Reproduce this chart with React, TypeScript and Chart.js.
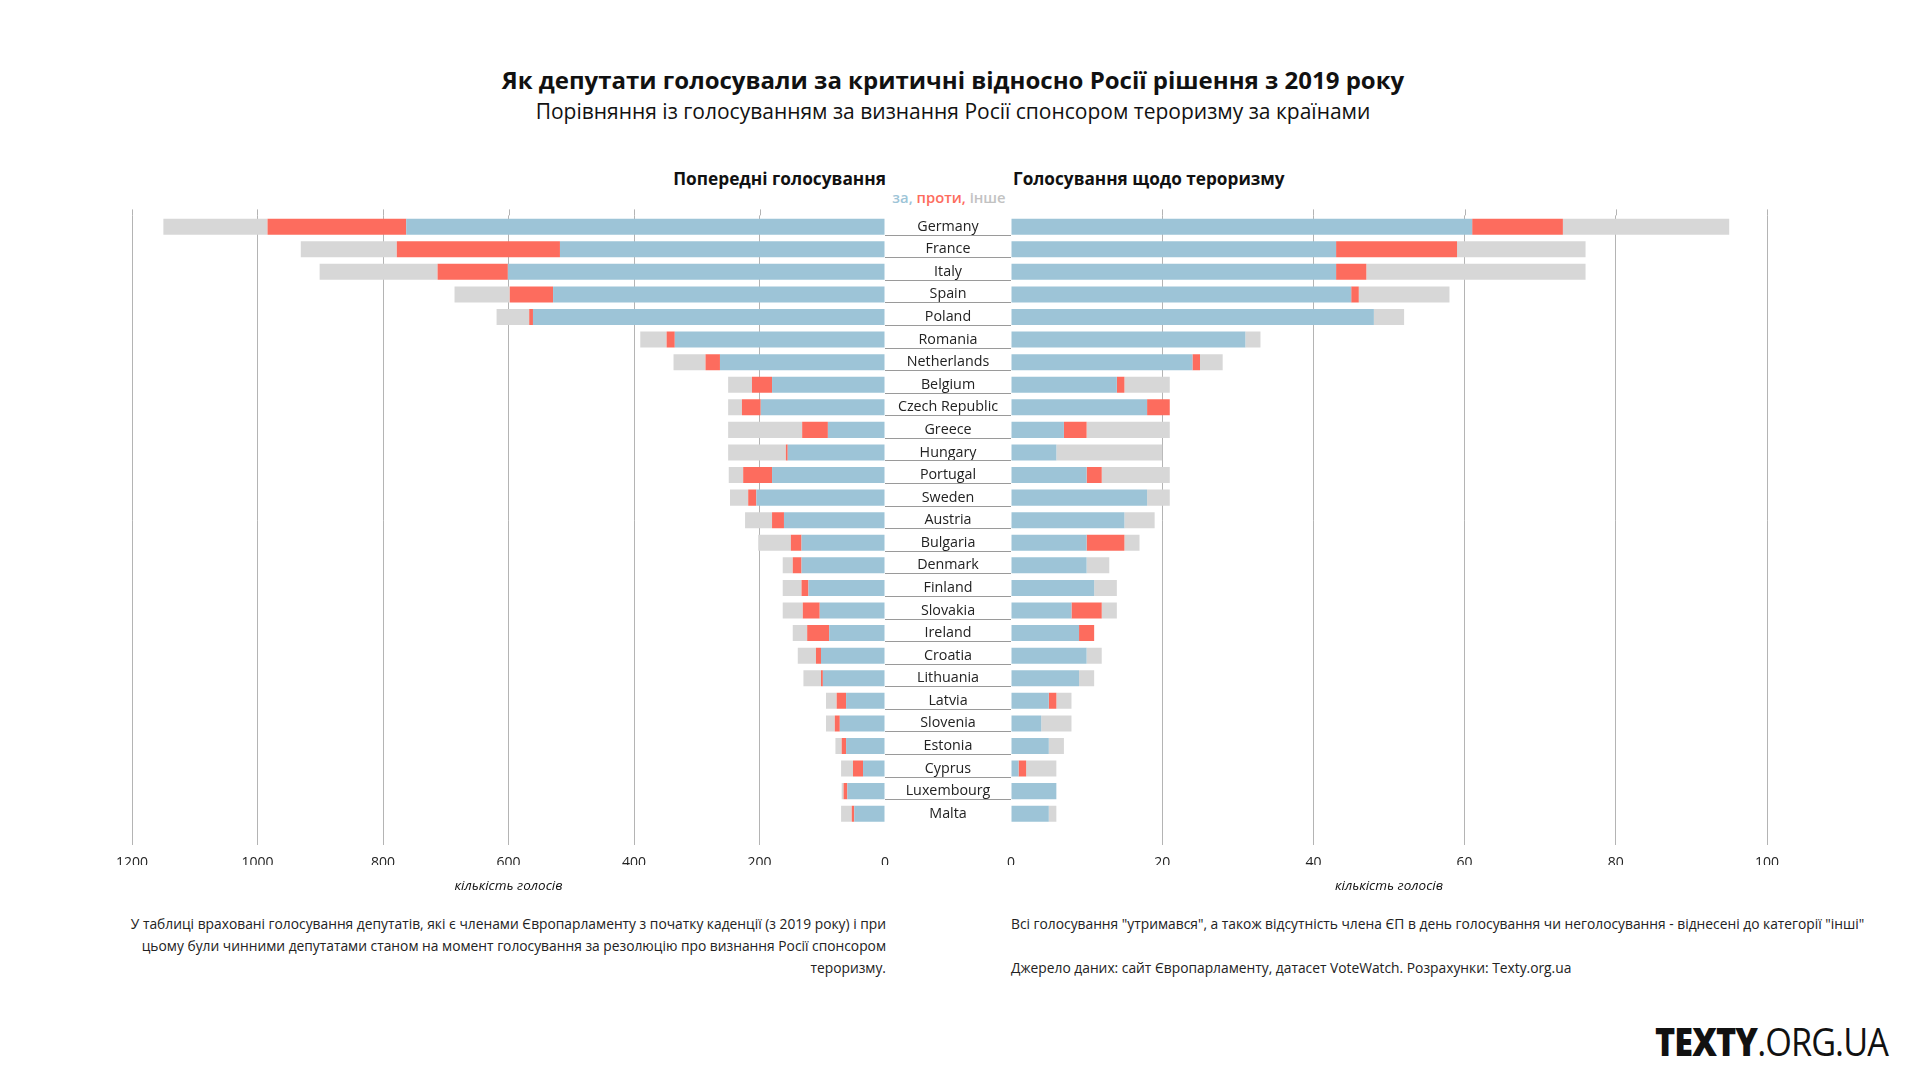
import React, { useEffect, useRef } from "react";
import { Chart, registerables } from "chart.js";

Chart.register(...registerables);

const FONT = "'Open Sans', 'Noto Sans', sans-serif";

const countries = [
  "Germany", "France", "Italy", "Spain", "Poland", "Romania", "Netherlands",
  "Belgium", "Czech Republic", "Greece", "Hungary", "Portugal", "Sweden", "Austria",
  "Bulgaria", "Denmark", "Finland", "Slovakia", "Ireland", "Croatia", "Lithuania",
  "Latvia", "Slovenia", "Estonia", "Cyprus", "Luxembourg", "Malta",
];

// Previous votes (since 2019)
const prevFor = [763, 518, 601, 529, 561, 335, 263, 180, 198, 91, 155, 180, 205, 161, 133, 133, 122, 104, 89, 102, 99, 62, 72, 62, 35, 60, 49];
const prevAgainst = [221, 260, 112, 69, 6, 13, 23, 32, 30, 41, 3, 46, 13, 19, 17, 14, 11, 27, 35, 8, 3, 15, 8, 7, 16, 6, 4];
const prevOther = [166, 153, 188, 88, 52, 42, 51, 38, 22, 118, 92, 23, 29, 43, 52, 16, 30, 32, 23, 29, 28, 17, 14, 10, 19, 3, 17];

// Terrorism resolution vote
const terrFor = [61, 43, 43, 45, 48, 31, 24, 14, 18, 7, 6, 10, 18, 15, 10, 10, 11, 8, 9, 10, 9, 5, 4, 5, 1, 6, 5];
const terrAgainst = [12, 16, 4, 1, 0, 0, 1, 1, 3, 3, 0, 2, 0, 0, 5, 0, 0, 4, 2, 0, 0, 1, 0, 0, 1, 0, 0];
const terrOther = [22, 17, 29, 12, 4, 2, 3, 6, 0, 11, 14, 9, 3, 4, 2, 3, 3, 2, 0, 2, 2, 2, 4, 2, 4, 0, 1];

const seriesNames = ["за", "проти", "інше"];
const leftAxisMax = 1200;
const leftAxisStep = 200;
const rightAxisMax = 100;
const rightAxisStep = 20;

const BLUE = "#9dc4d7";
const RED = "#fd6c5e";
const GREY = "#d7d7d7";
const GRID = "#b4b4b4";

const gridExtPlugin = {
  id: "gridExt",
  beforeDatasetsDraw(chart: any) {
    const { ctx, chartArea, scales } = chart;
    const xs = scales.x;
    ctx.save();
    ctx.strokeStyle = GRID;
    ctx.lineWidth = 1;
    xs.ticks.forEach((t: any) => {
      if (t.value === 0) return;
      const x = Math.round(xs.getPixelForValue(t.value)) + 0.5;
      ctx.beginPath();
      ctx.moveTo(x, chartArea.top - 6);
      ctx.lineTo(x, chartArea.top);
      ctx.stroke();
    });
    ctx.restore();
  },
};

const centerLabelsPlugin = {
  id: "centerLabels",
  afterDraw(chart: any) {
    const { ctx, chartArea, scales } = chart;
    const ys = scales.y;
    const labels = chart.data.labels as string[];
    ctx.save();
    ctx.font = `14.3px ${FONT}`;
    ctx.fillStyle = "#222";
    ctx.textAlign = "center";
    ctx.textBaseline = "middle";
    const colLeft = chartArea.left - 126;
    labels.forEach((lab, i) => {
      const y = ys.getPixelForValue(i);
      ctx.fillText(lab, chartArea.left - 63, y);
      if (i < labels.length - 1) {
        ctx.strokeStyle = "#9a9a9a";
        ctx.lineWidth = 1;
        const ly = Math.round(y + 8) + 0.5;
        ctx.beginPath();
        ctx.moveTo(colLeft, ly);
        ctx.lineTo(chartArea.left, ly);
        ctx.stroke();
      }
    });
    ctx.restore();
  },
};

function makeConfig(
  forV: number[],
  againstV: number[],
  otherV: number[],
  max: number,
  step: number,
  reverse: boolean,
  padding: any,
  plugins: any[]
): any {
  const gridColor = (c: any) => (c.tick && c.tick.value === 0 ? "rgba(0,0,0,0)" : GRID);
  return {
    type: "bar",
    data: {
      labels: countries,
      datasets: [
        { label: seriesNames[0], data: forV, backgroundColor: BLUE },
        { label: seriesNames[1], data: againstV, backgroundColor: RED },
        { label: seriesNames[2], data: otherV, backgroundColor: GREY },
      ].map((d) => ({ ...d, borderWidth: 0, barPercentage: 0.71, categoryPercentage: 1 })),
    },
    options: {
      indexAxis: "y",
      responsive: false,
      animation: false,
      devicePixelRatio: 1,
      layout: { padding },
      plugins: { legend: { display: false }, tooltip: { enabled: false }, title: { display: false } },
      scales: {
        x: {
          stacked: true,
          min: 0,
          max,
          reverse,
          border: { display: false },
          grid: { color: gridColor, tickColor: gridColor, lineWidth: 1, drawTicks: true, tickLength: 20 },
          ticks: {
            stepSize: step,
            color: "#222",
            font: { family: FONT, size: 14 },
            padding: 10,
            maxRotation: 0,
            callback: (v: any) => String(v),
          },
          afterFit: (s: any) => {
            s.height = 40;
          },
        },
        y: {
          stacked: true,
          display: false,
        },
      },
    },
    plugins,
  };
}

export default function App() {
  const leftRef = useRef<HTMLCanvasElement>(null);
  const rightRef = useRef<HTMLCanvasElement>(null);

  useEffect(() => {
    const left = new Chart(
      leftRef.current as HTMLCanvasElement,
      makeConfig(prevFor, prevAgainst, prevOther, leftAxisMax, leftAxisStep, true,
        { left: 50, right: 30, top: 65.4, bottom: 45 }, [gridExtPlugin])
    );
    const right = new Chart(
      rightRef.current as HTMLCanvasElement,
      makeConfig(terrFor, terrAgainst, terrOther, rightAxisMax, rightAxisStep, false,
        { left: 126, right: 53, top: 65.4, bottom: 45 }, [gridExtPlugin, centerLabelsPlugin])
    );
    return () => {
      left.destroy();
      right.destroy();
    };
  }, []);

  const abs = (s: React.CSSProperties): React.CSSProperties => ({ position: "absolute", whiteSpace: "nowrap", ...s });

  return (
    <div style={{ position: "fixed", left: 0, top: 0, width: 1920, height: 1079, background: "#fff", fontFamily: FONT, color: "#111", overflow: "hidden" }}>
      <div style={abs({ left: 953, top: 79, transform: "translate(-50%,-50%)", fontSize: 24, fontWeight: 700 })}>
        Як депутати голосували за критичні відносно Росії рішення з 2019 року
      </div>
      <div style={abs({ left: 953, top: 110.5, transform: "translate(-50%,-50%)", fontSize: 21, fontWeight: 500 })}>
        Порівняння із голосуванням за визнання Росії спонсором тероризму за країнами
      </div>
      <div style={abs({ right: 1920 - 886, top: 177.5, transform: "translateY(-50%)", fontSize: 17.3, fontWeight: 700 })}>
        Попередні голосування
      </div>
      <div style={abs({ left: 1013, top: 177.5, transform: "translateY(-50%)", fontSize: 17.2, fontWeight: 700 })}>
        Голосування щодо тероризму
      </div>
      <div style={abs({ left: 949, top: 197, transform: "translate(-50%,-50%)", fontSize: 14.8, fontWeight: 600 })}>
        <span style={{ color: BLUE }}>{seriesNames[0]}, </span>
        <span style={{ color: RED }}>{seriesNames[1]}, </span>
        <span style={{ color: "#c2c2c2" }}>{seriesNames[2]}</span>
      </div>

      <canvas ref={leftRef} width={833} height={760} style={{ position: "absolute", left: 82, top: 150, width: 833, height: 760 }} />
      <canvas ref={rightRef} width={935} height={760} style={{ position: "absolute", left: 885, top: 150, width: 935, height: 760 }} />

      <div style={abs({ left: 508.5, top: 885, transform: "translate(-50%,-50%)", fontSize: 13.5, fontStyle: "italic" })}>
        кількість голосів
      </div>
      <div style={abs({ left: 1389, top: 885, transform: "translate(-50%,-50%)", fontSize: 13.5, fontStyle: "italic" })}>
        кількість голосів
      </div>

      <div style={abs({ right: 1920 - 886, top: 913, fontSize: 13.8, lineHeight: "22px", textAlign: "right", color: "#222" })}>
        У таблиці враховані голосування депутатів, які є членами Європарламенту з початку каденції (з 2019 року) і при
        <br />
        цьому були чинними депутатами станом на момент голосування за резолюцію про визнання Росії спонсором
        <br />
        тероризму.
      </div>
      <div style={abs({ left: 1011, top: 913, fontSize: 13.8, lineHeight: "22px", color: "#222" })}>
        Всі голосування "утримався", а також відсутність члена ЄП в день голосування чи неголосування - віднесені до категорії "інші"
      </div>
      <div style={abs({ left: 1011, top: 957, fontSize: 13.8, lineHeight: "22px", color: "#222" })}>
        Джерело даних: сайт Європарламенту, датасет VoteWatch. Розрахунки: Texty.org.ua
      </div>

      <div style={abs({ left: 1655, top: 1041, transform: "translateY(-50%) scaleX(0.9)", transformOrigin: "left center", fontSize: 38, color: "#111", letterSpacing: -1 })}>
        <span style={{ fontWeight: 800 }}>TEXTY</span>
        <span style={{ fontWeight: 400 }}>.ORG.UA</span>
      </div>
    </div>
  );
}
